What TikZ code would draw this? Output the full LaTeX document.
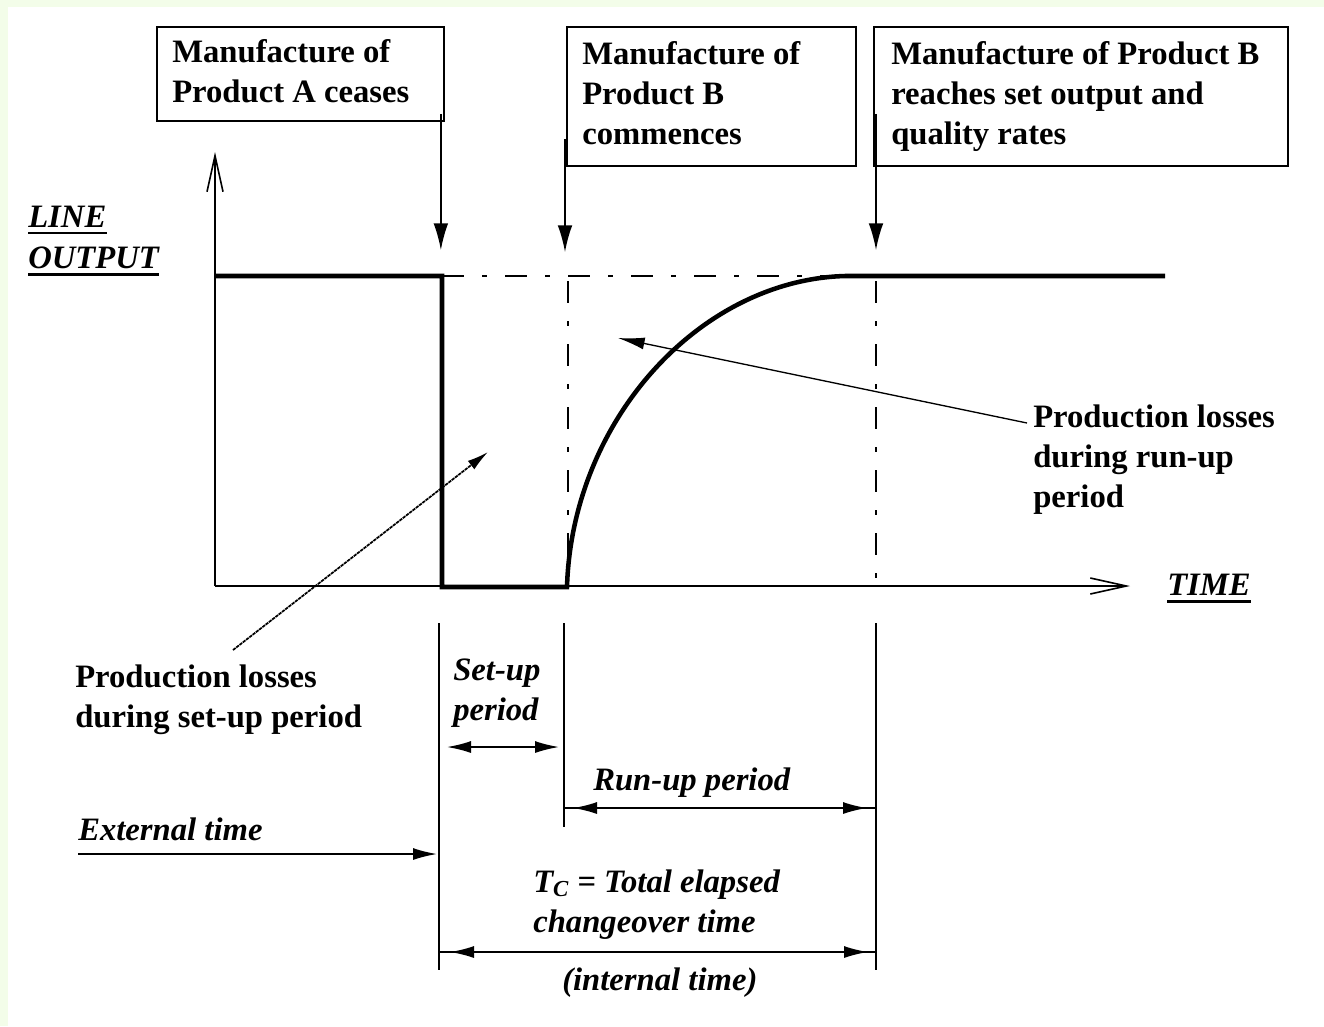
\documentclass[tikz,border=0pt]{standalone}
\usepackage{fontspec}
\setmainfont{Liberation Serif}
\usetikzlibrary{arrows.meta}
\definecolor{bggreen}{HTML}{F3FDE9}
\begin{document}
\begin{tikzpicture}[x=0.75pt,y=-0.75pt,
  box/.style={draw, line width=1.4pt, inner sep=0pt, anchor=north west},
  lbl/.style={anchor=base west, inner sep=0pt, align=left,
    font=\fontsize{24.5pt}{30pt}\selectfont\bfseries},
  ilbl/.style={anchor=base west, inner sep=0pt, align=left,
    font=\fontsize{24.5pt}{30pt}\selectfont\bfseries\itshape},
  thinl/.style={line width=1.2pt},
  uline/.style={line width=2pt},
  outcurve/.style={line width=3.4pt},
  dashdot/.style={line width=1.2pt, dash pattern=on 16.5pt off 13.5pt on 3.75pt off 13.5pt},
  downarr/.style={thinl, -{Latex[length=20pt,width=11pt]}},
  dimarr/.style={thinl, {Latex[length=18pt,width=9pt]}-{Latex[length=18pt,width=9pt]}},
  onearr/.style={thinl, -{Latex[length=18pt,width=9pt]}},
  axisarr/.style={thinl, -{Straight Barb[length=27pt,width=12pt]}},
  leader/.style={line width=1pt, -{Latex[length=20pt,width=9pt]}},
  leaderdot/.style={line width=1.3pt, dash pattern=on 2.5pt off 0.6pt, -{Latex[length=16pt,width=8pt]}}
]
% background
\fill[bggreen] (0,0) rectangle (1324,1026);
\fill[white] (8,7) rectangle (1324,1026);
\useasboundingbox (0,0) rectangle (1324,1026);

% boxes
\node[box, minimum width=215.25pt, minimum height=70.5pt] (boxA) at (156,26) {};
\node[box, minimum width=216.75pt, minimum height=104.25pt] (boxB) at (566,26) {};
\node[box, minimum width=310.5pt, minimum height=104.25pt] (boxC) at (873,26) {};

% (base anchor of a multi-line node = baseline of its last line)
\node[lbl] (tA) at (172,102) {Manufacture of\\Product A ceases};
\node[lbl] (tB) at (582,144) {Manufacture of\\Product B\\commences};
\node[lbl] (tC) at (891,144) {Manufacture of Product B\\reaches set output and\\quality rates};

% event arrows
\coordinate (ceaseTip) at (440,250);
\coordinate (commTip) at (564,252);
\coordinate (reachTip) at (875,250);
\draw[downarr] ([shift={(-4,-8)}]boxA.south east) coordinate (a1) -- (a1 |- ceaseTip);
\draw[downarr] ([shift={(-1,-28)}]boxB.south west) coordinate (a2) -- (a2 |- commTip);
\draw[downarr] ([shift={(3,-53)}]boxC.south west) coordinate (a3) -- (a3 |- reachTip);

% axes
\coordinate (origin) at (215,586);
\coordinate (yend) at (215,152);
\coordinate (xend) at (1130,586);
\draw[axisarr] (origin) -- (yend);
\draw[axisarr] (origin) -- (xend);

\node[ilbl] (lineL) at (28,227) {LINE};
\node[ilbl] (outL) at (28,268) {OUTPUT};
\node[ilbl] (timeL) at (1167,595) {TIME};
\draw[uline] ([yshift=-4.5pt]lineL.base west) -- ([yshift=-4.5pt]lineL.base east);
\draw[uline] ([yshift=-5pt]outL.base west) -- ([yshift=-5pt]outL.base east);
\draw[uline] ([yshift=-5pt]timeL.base west) -- ([yshift=-5pt]timeL.base east);

% reference dash-dot lines
\draw[dashdot] (442,276) -- (845,276);
\draw[dashdot] (568,281) -- (568,586);
\draw[dashdot] (876,281) -- (876,586);

% output curve
\draw[outcurve] (215,276) -- (442,276) -- (442,587) -- (567,587)
  .. controls (572,420) and (700,280) .. (845,276) -- (1165,276);

% loss labels and leaders
\node[lbl] (lossR) at (1033,507) {Production losses\\during run-up\\period};
\node[lbl] (lossL) at (75,727) {Production losses\\during set-up period};
\coordinate (runTip) at (618,338);
\coordinate (setTip) at (488,452);
\draw[leader] ([shift={(-6,-84)}]lossR.base west) -- (runTip);
\draw[leaderdot] ([shift={(158,-77)}]lossL.base west) -- (setTip);

% time extension lines
\coordinate (v1t) at (439,623); \coordinate (v1b) at (439,970);
\coordinate (v2t) at (564,623); \coordinate (v2b) at (564,827);
\coordinate (v3t) at (876,623); \coordinate (v3b) at (876,970);
\draw[thinl] (v1t) -- (v1b);
\draw[thinl] (v2t) -- (v2b);
\draw[thinl] (v3t) -- (v3b);

% set-up period
\node[ilbl] (setL) at (453,720) {Set-up\\period};
\draw[dimarr] (447,747) -- (559,747);

% run-up period
\node[ilbl] (runL) at (593,790) {Run-up period};
\draw[thinl] (564,808) -- (876,808);
\draw[dimarr] (573,808) -- (867,808);

% total changeover time
\node[ilbl] (tcL) at (533,932) {T\textsubscript{C} = Total elapsed\\changeover time};
\draw[thinl] (439,952) -- (876,952);
\draw[dimarr] (450,952) -- (868,952);
\node[ilbl] (intL) at (562,990) {(internal time)};

% external time
\node[ilbl] (extL) at (78,840) {External time};
\draw[onearr] ([yshift=-10.5pt]extL.base west) -- (437,854);
\end{tikzpicture}
\end{document}
